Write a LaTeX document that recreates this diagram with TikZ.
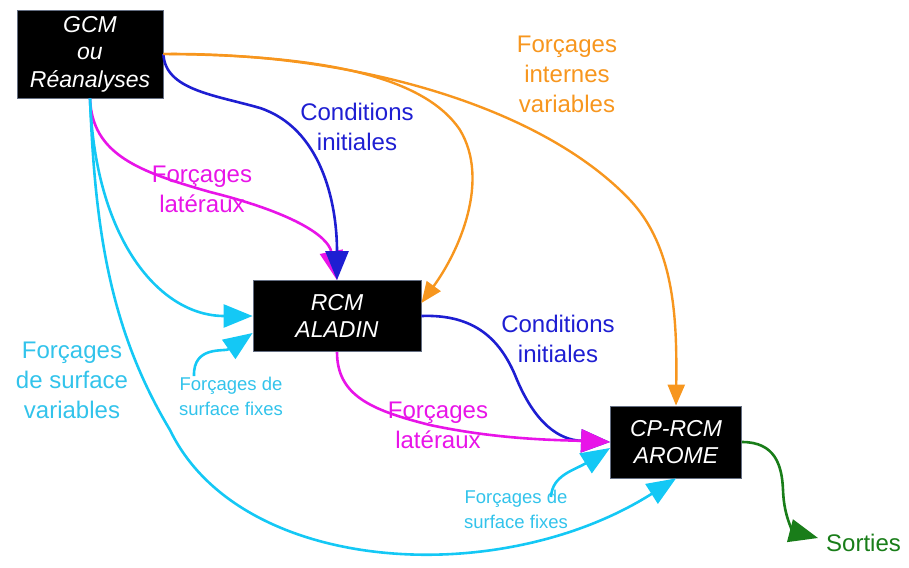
\documentclass[tikz,border=0pt]{standalone}
\usepackage{fontspec}
\setmainfont{Liberation Sans}
\usetikzlibrary{arrows.meta}
\definecolor{cblue}{RGB}{30,30,210}
\definecolor{cmag}{RGB}{232,20,232}
\definecolor{ccyan}{RGB}{20,200,245}
\definecolor{ccyantxt}{RGB}{50,195,235}
\definecolor{corange}{RGB}{247,150,30}
\definecolor{cgreen}{RGB}{25,125,25}
\definecolor{cborder}{RGB}{100,110,130}
\tikzset{
  box/.style={fill=black, draw=cborder, line width=0.8pt, text=white, align=center, inner sep=0pt,
              font=\fontsize{23}{27.5}\selectfont\itshape},
  lbl/.style={align=center, inner sep=0pt, font=\fontsize{24}{30}\selectfont},
  slbl/.style={align=center, inner sep=0pt, font=\fontsize{18.5}{25}\selectfont, text=ccyantxt},
  conn/.style={line width=2.6pt, -{Triangle[length=29pt,width=23pt]}},
  oconn/.style={line width=2.4pt, draw=corange, -{Triangle[length=21pt,width=17pt]}, color=corange},
}
\begin{document}
\begin{tikzpicture}[x=1pt,y=-1pt]
\useasboundingbox (0,0) rectangle (909,567);
% boxes
\node[box, minimum width=146pt, minimum height=88pt] (gcm) at (90,54) {GCM\\ou\\Réanalyses};
\node[box, minimum width=168pt, minimum height=71pt] (rcm) at (337,316) {RCM\\ALADIN};
\node[box, minimum width=131pt, minimum height=72pt] (arome) at (676,442) {CP-RCM\\AROME};
% labels
\node[lbl, text=corange] (lint) at (567,74) {Forçages\\internes\\variables};
\node[lbl, text=cblue] (lci1) at (357,127) {Conditions\\initiales};
\node[lbl, text=cmag] (llat1) at (202,189) {Forçages\\latéraux};
\node[lbl, text=cblue] (lci2) at (558,339) {Conditions\\initiales};
\node[lbl, text=cmag] (llat2) at (438,425) {Forçages\\latéraux};
\node[lbl, text=ccyantxt] (lsv) at (72,380) {Forçages\\de surface\\variables};
\node[slbl] (lsf1) at (231,396) {Forçages de\\surface fixes};
\node[slbl] (lsf2) at (516,509) {Forçages de\\surface fixes};
\node[lbl, text=cgreen, anchor=west] (sorties) at (826,543) {Sorties};
\coordinate (sf1start) at (194,376);
\coordinate (sf2start) at (551,497);
\coordinate (sortiestip) at ([xshift=-8pt,yshift=5pt]sorties.west);
% connectors
\draw[conn, cmag] (gcm.south) .. controls (92,155) and (140,172) .. (210,192)
   .. controls (290,212) and (328,235) .. (rcm.north);
\draw[conn, cblue] (gcm.east) .. controls (165,90) and (215,95) .. (260,108)
   .. controls (320,128) and (337,200) .. (rcm.north);
\draw[conn, ccyan] (gcm.south) .. controls (95,240) and (160,316) .. (rcm.west);
\draw[conn, ccyan] (gcm.south) .. controls (95,230) and (110,330) .. (170,430)
   .. controls (240,575) and (500,590) .. (arome.south);
\draw[oconn] (gcm.east) .. controls (300,55) and (420,70) .. (460,130)
   .. controls (490,180) and (460,250) .. ([yshift=13pt]rcm.east);
\draw[oconn] (gcm.east) .. controls (350,52) and (540,105) .. (630,200)
   .. controls (675,248) and (677,320) .. (arome.north);
\draw[conn, cblue] (rcm.east) .. controls (475,314) and (500,340) .. (515,375)
   .. controls (535,425) and (560,440) .. (arome.west);
\draw[conn, cmag] (rcm.south) .. controls (337,395) and (370,410) .. (430,425)
   .. controls (500,440) and (560,440) .. (arome.west);
\draw[conn, ccyan] (sf1start) .. controls (193,345) and (225,352) .. ([yshift=-17pt]rcm.west);
\draw[conn, ccyan] (sf2start) .. controls (552,475) and (575,470) .. ([yshift=-6pt]arome.west);
\draw[conn, cgreen] (arome.east) .. controls (775,442) and (782,465) .. (783,490)
   .. controls (784,520) and (795,532) .. (sortiestip);
\end{tikzpicture}
\end{document}
